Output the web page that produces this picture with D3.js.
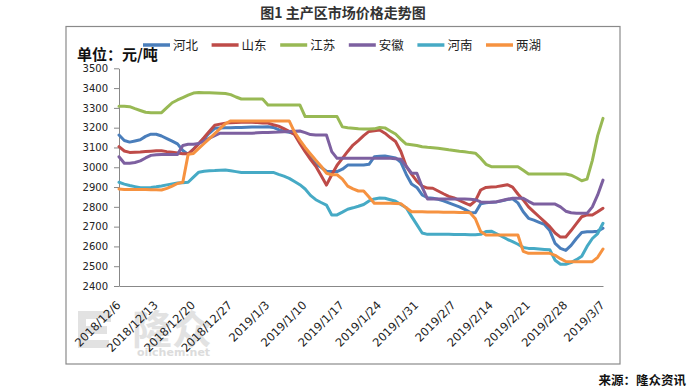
<!DOCTYPE html>
<html><head><meta charset="utf-8">
<script src="https://cdn.jsdelivr.net/npm/d3@7"></script>
<style>body{margin:0;background:#fff}</style></head>
<body><svg id="c" width="689" height="390"></svg>
<script>
const startDate = "2018-12-06";
const endDate = "2019-03-07";
const tickLabels = ["2018/12/6","2018/12/13","2018/12/20","2018/12/27","2019/1/3","2019/1/10","2019/1/17","2019/1/24","2019/1/31","2019/2/7","2019/2/14","2019/2/21","2019/2/28","2019/3/7"];
const yTicks = [2400,2500,2600,2700,2800,2900,3000,3100,3200,3300,3400,3500];
const seriesNames = ["河北","山东","江苏","安徽","河南","两湖"];
const seriesColors = ["#4a7ebb","#be4b48","#98b954","#7d60a0","#46aac5","#f69240"];

const hebei = [3163,3135,3127,3133,3139,3156,3167,3167,3158,3145,
 3132,3118,3085,3065,3092,3119,3146,3173,3197,3198,
 3199,3200,3201,3201,3202,3203,3203,3204,3205,3201,
 3190,3182,3177,3170,3128,3085,3050,3015,3000,2980,
 2978,2978,2990,3011,3011,3011,3011,3015,3053,3055,
 3057,3052,3047,3025,2965,2915,2898,2860,2846,2843,
 2838,2830,2820,2810,2800,2787,2772,2770,2815,2820,
 2823,2825,2830,2837,2841,2820,2775,2742,2733,2722,
 2711,2680,2615,2590,2580,2605,2640,2670,2674,2674,
 2677,2692];
const shandong = [3104,3082,3075,3076,3077,3079,3081,3083,3083,3079,
 3076,3072,3068,3068,3090,3120,3150,3182,3212,3218,
 3223,3225,3226,3227,3228,3227,3226,3224,3223,3215,
 3208,3195,3182,3165,3120,3079,3040,3005,2958,2910,
 2962,3010,3045,3080,3112,3135,3160,3181,3184,3188,
 3172,3150,3130,3080,3005,2965,2930,2905,2895,2894,
 2880,2866,2853,2845,2832,2820,2808,2830,2885,2898,
 2900,2902,2907,2912,2900,2865,2835,2800,2775,2750,
 2725,2700,2668,2647,2648,2680,2715,2750,2759,2759,
 2775,2793];
const jiangsu = [3308,3308,3306,3296,3287,3278,3276,3276,3276,3301,
 3326,3340,3352,3364,3375,3378,3377,3376,3375,3374,
 3373,3367,3355,3345,3345,3345,3345,3345,3315,3315,
 3315,3315,3315,3315,3315,3256,3256,3256,3256,3256,
 3256,3256,3204,3200,3197,3194,3193,3193,3194,3201,
 3199,3183,3168,3141,3117,3114,3110,3104,3101,3099,
 3096,3092,3088,3085,3081,3078,3074,3071,3046,3015,
 3003,3003,3003,3003,3003,3003,2985,2966,2966,2966,
 2966,2966,2966,2966,2966,2960,2947,2932,2940,3035,
 3160,3247];
const anhui = [3053,3020,3020,3024,3032,3047,3060,3063,3065,3065,
 3065,3065,3110,3116,3116,3120,3133,3147,3160,3172,
 3172,3172,3172,3172,3172,3172,3174,3175,3176,3177,
 3178,3180,3181,3182,3183,3175,3165,3163,3163,3163,
 3079,3045,3045,3045,3045,3045,3045,3045,3045,3045,
 3045,3045,3043,3040,3005,2970,2970,2900,2840,2840,
 2840,2840,2840,2840,2840,2839,2838,2836,2825,2823,
 2823,2826,2832,2838,2843,2843,2843,2828,2814,2814,
 2814,2814,2814,2800,2778,2770,2768,2767,2767,2800,
 2860,2935];
const henan = [2924,2915,2908,2902,2896,2896,2898,2901,2905,2911,
 2916,2920,2922,2924,2950,2975,2980,2982,2983,2985,
 2986,2982,2978,2974,2974,2974,2974,2974,2974,2974,
 2964,2955,2944,2928,2912,2890,2858,2836,2822,2809,
 2759,2759,2773,2788,2795,2803,2812,2830,2840,2845,
 2843,2836,2828,2812,2795,2752,2710,2668,2661,2661,
 2661,2661,2661,2660,2660,2660,2659,2659,2661,2675,
 2677,2664,2650,2636,2624,2611,2595,2590,2589,2587,
 2585,2583,2530,2510,2510,2518,2533,2550,2600,2640,
 2665,2717];
const lianghu = [2890,2888,2888,2887,2887,2887,2886,2886,2885,2893,
 2905,2918,2924,3065,3070,3095,3120,3145,3170,3195,
 3220,3234,3234,3234,3234,3234,3234,3234,3234,3234,
 3234,3234,3234,3178,3137,3100,3067,3035,3005,2970,
 2962,2962,2940,2905,2891,2880,2880,2850,2818,2818,
 2818,2818,2817,2816,2795,2775,2775,2775,2774,2774,
 2774,2773,2773,2773,2772,2772,2770,2740,2675,2658,
 2658,2658,2658,2658,2658,2658,2575,2565,2565,2565,
 2565,2565,2555,2538,2524,2522,2522,2523,2523,2523,
 2545,2587];
const seriesValues = [hebei, shandong, jiangsu, anhui, henan, lianghu];

const svg = d3.select("#c");
const cjk = "'Noto Sans CJK SC', sans-serif";
const num = "'DejaVu Sans', sans-serif";
const parseISO = d3.timeParse("%Y-%m-%d");
const parseSlash = d3.timeParse("%Y/%m/%d");
const d0 = parseISO(startDate), d1 = parseISO(endDate);
const dates = d3.timeDay.range(d0, d3.timeDay.offset(d1, 1));

const x = d3.scaleTime().domain([d0, d1]).range([119, 603]);
const y = d3.scaleLinear().domain([2400, 3500]).range([286, 68.3]);

// frame
svg.append("rect").attr("x", 66).attr("y", 26.5).attr("width", 554).attr("height", 337.5)
  .attr("fill", "#fff").attr("stroke", "#8a8a8a").attr("stroke-width", 1.2);

// watermark
const wm = svg.append("g");
wm.append("path").attr("d", "M107,322 L107,315 L82,315 L82,344 L109,344 M82,330 L107,330")
  .attr("fill", "none").attr("stroke", "#e2e2e2").attr("stroke-width", 8);
wm.append("text").attr("x", 132).attr("y", 344).attr("font-family", cjk).attr("font-weight", "bold")
  .attr("font-size", 40).attr("fill", "#e2e2e2").text("隆众");
wm.append("text").attr("x", 137).attr("y", 356).attr("font-family", num).attr("font-weight", "bold")
  .attr("font-size", 11).attr("fill", "#dcdcdc").text("oilchem.net");

// title
svg.append("text").attr("x", 343).attr("y", 18).attr("text-anchor", "middle")
  .attr("font-family", cjk).attr("font-weight", "bold").attr("font-size", 14).attr("fill", "#333")
  .text("图1 主产区市场价格走势图");

// unit
svg.append("text").attr("x", 77).attr("y", 60).attr("font-family", cjk).attr("font-weight", "bold")
  .attr("font-size", 15).attr("fill", "#111").text("单位：元/吨");

// legend
const lg = svg.append("g");
seriesNames.forEach((n, i) => {
  const lx = 143 + i * 68.6;
  lg.append("line").attr("x1", lx).attr("x2", lx + 27).attr("y1", 45).attr("y2", 45)
    .attr("stroke", seriesColors[i]).attr("stroke-width", 3.5);
  lg.append("text").attr("x", lx + 30).attr("y", 49.5).attr("font-family", cjk)
    .attr("font-size", 12.5).attr("fill", "#222").text(n);
});

// y axis
const ya = svg.append("g").attr("transform", "translate(119,0)")
  .call(d3.axisLeft(y).tickValues(yTicks).tickSize(5).tickSizeOuter(0).tickPadding(6).tickFormat(d3.format("d")));
ya.select(".domain").attr("stroke", "#888");
ya.selectAll(".tick line").attr("stroke", "#888");
ya.selectAll("text").attr("font-family", num).attr("font-size", 10).attr("fill", "#222");

// x axis
const tickDates = tickLabels.map(parseSlash);
const xa = svg.append("g").attr("transform", "translate(0,286)")
  .call(d3.axisBottom(x).tickValues(tickDates).tickSize(0).tickSizeOuter(0)
    .tickFormat((d, i) => tickLabels[i]));
xa.select(".domain").attr("stroke", "#888");
xa.selectAll("text").attr("font-family", num).attr("font-size", 11.5).attr("fill", "#222")
  .attr("text-anchor", "end").attr("x", 0).attr("y", 0).attr("dy", "0.35em")
  .attr("transform", "translate(-1,17) rotate(-45)");

// lines
const line = d3.line().x((d, i) => x(dates[i])).y(d => y(d));
seriesValues.forEach((vals, i) => {
  svg.append("path").datum(vals).attr("d", line).attr("fill", "none")
    .attr("stroke", seriesColors[i]).attr("stroke-width", 3)
    .attr("stroke-linejoin", "round").attr("stroke-linecap", "round");
});

// source
svg.append("text").attr("x", 686).attr("y", 385).attr("text-anchor", "end")
  .attr("font-family", cjk).attr("font-weight", "bold").attr("font-size", 12.5).attr("fill", "#111")
  .text("来源：隆众资讯");
</script></body></html>
